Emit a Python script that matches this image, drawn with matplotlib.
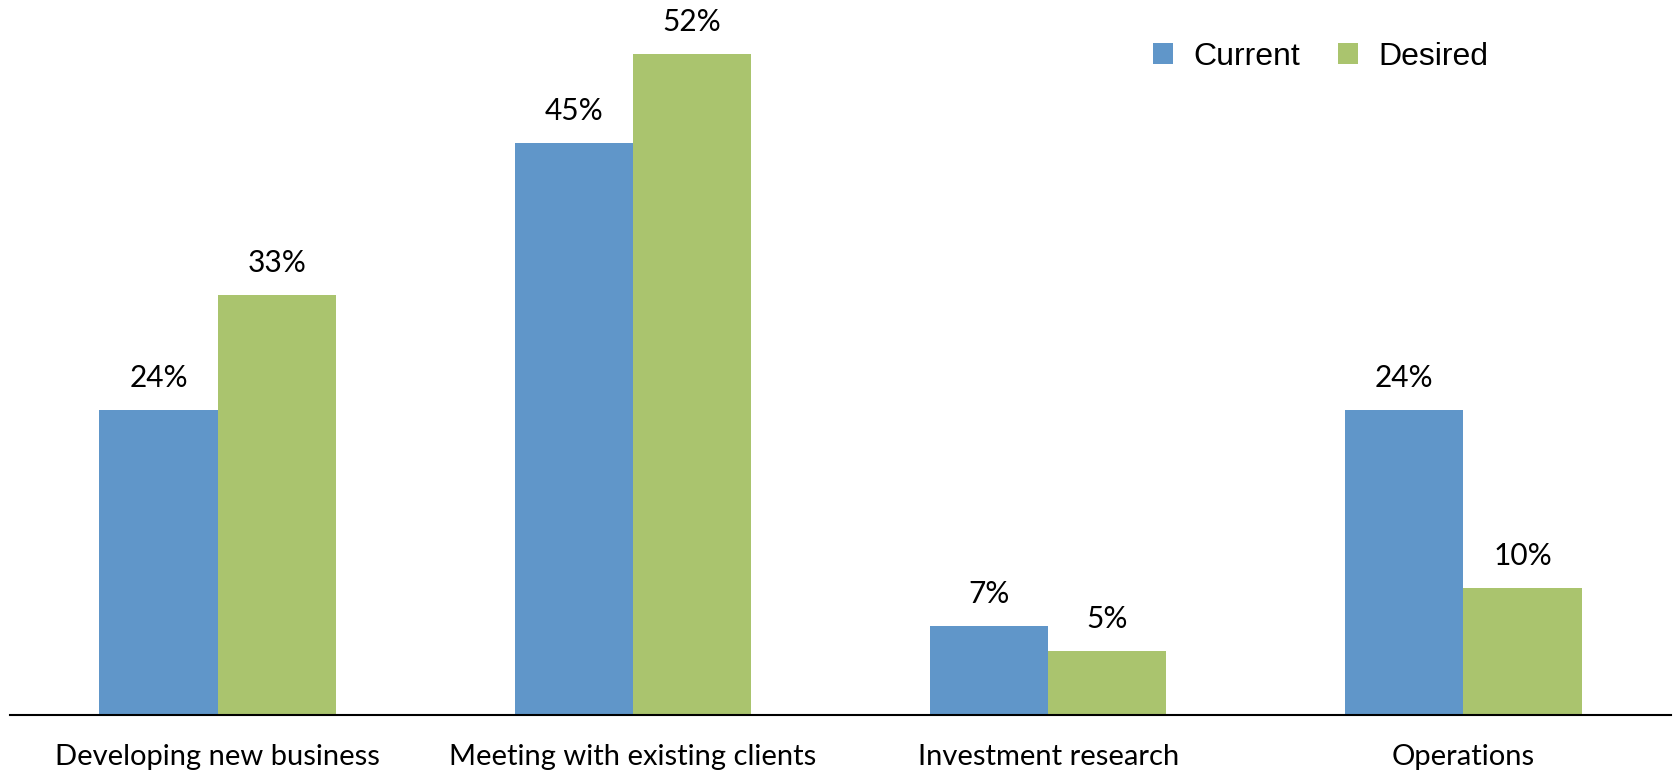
import matplotlib.pyplot as plt
import numpy as np

categories = ["Developing new business", "Meeting with existing clients",
              "Investment research", "Operations"]
current = [24, 45, 7, 24]
desired = [33, 52, 5, 10]

blue = "#6096C9"
green = "#AAC46E"

fig = plt.figure(figsize=(16.75, 7.75), dpi=100)
ax = fig.add_axes([10 / 1675, 60 / 775, 1661 / 1675, 712 / 775])

x = np.arange(len(categories))
w = 0.285
b1 = ax.bar(x - w / 2, current, w, color=blue, label="Current")
b2 = ax.bar(x + w / 2, desired, w, color=green, label="Desired")

for bars, vals in ((b1, current), (b2, desired)):
    for rect, v in zip(bars, vals):
        ax.annotate(f"{v}%", (rect.get_x() + rect.get_width() / 2, v),
                    xytext=(0, 23), textcoords="offset points",
                    ha="center", va="center", fontsize=21.5, family="Lato")

ax.set_xlim(-0.5, 3.5)
ax.set_ylim(0, 56)
ax.set_yticks([])
ax.set_xticks(x)
ax.set_xticklabels(categories, fontsize=21, family="Lato")
ax.tick_params(axis="x", length=0, pad=21)
for s in ("top", "right", "left"):
    ax.spines[s].set_visible(False)
ax.spines["bottom"].set_linewidth(1.5)

leg = ax.legend(loc="center right", bbox_to_anchor=(0.8898, 0.924),
                ncol=2, frameon=False, prop={"family": "Liberation Sans", "size": 23},
                handlelength=0.63, handleheight=0.63, handletextpad=0.62,
                columnspacing=1.2, borderpad=0, borderaxespad=0)

fig.savefig("out.png", dpi=100)
